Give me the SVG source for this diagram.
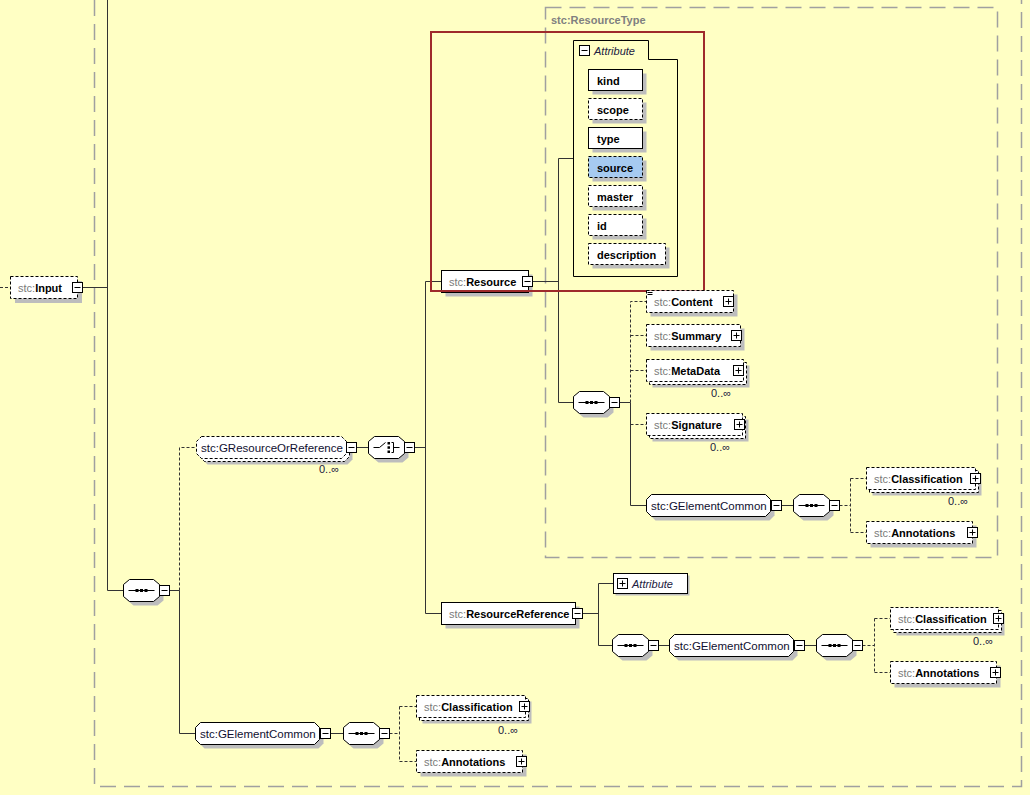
<svg xmlns="http://www.w3.org/2000/svg" width="1030" height="795" viewBox="0 0 1030 795">
<style>
.bg{fill:#FFFFC4}
.frame{fill:none;stroke:#A0A0A0;stroke-width:1.5;stroke-dasharray:16 8}
.ln{fill:none;stroke:#333;stroke-width:1}
.dl{fill:none;stroke:#333;stroke-width:1;stroke-dasharray:3 2}
.shd{fill:#BDBDBD;stroke:none}
.el{fill:#fff;stroke:#000;stroke-width:1}
.opt{stroke-dasharray:3 2}
.oct{fill:#fff;stroke:#000;stroke-width:1}
.t{font-family:"Liberation Sans",Arial,sans-serif;font-size:11px;fill:#000}
.p{fill:#7A7A7A;font-weight:normal}
.b{font-weight:bold;fill:#000}
.g{fill:#101030;font-size:11.5px}
.it{font-style:italic;fill:#202040}
.m{font-family:"Liberation Sans",Arial,sans-serif;font-size:11px;fill:#202040}
</style>
<defs>
<g id="mn"><rect x="0" y="-5" width="10" height="10" fill="#fff" stroke="#000"/><path d="M2,0H8" stroke="#000"/></g>
<g id="pl"><rect x="0" y="-5" width="10" height="10" fill="#fff" stroke="#000"/><path d="M2,0H8M5,-3V3" stroke="#000"/></g>
<g id="seq">
<polygon class="shd" points="10,-7 34,-7 40,-2 40,10 34,15 10,15 4,10 4,-2"/>
<polygon class="oct" points="6,-11 30,-11 36,-6 36,6 30,11 6,11 0,6 0,-6"/>
<path d="M5,0H31" stroke="#000"/>
<rect x="12" y="-1.5" width="3" height="3" fill="#000"/>
<rect x="16.5" y="-1.5" width="3" height="3" fill="#000"/>
<rect x="21" y="-1.5" width="3" height="3" fill="#000"/>
</g>
<g id="choice">
<polygon class="shd" points="10,-7 34,-7 40,-2 40,10 34,15 10,15 4,10 4,-2"/>
<polygon class="oct" points="6,-11 30,-11 36,-6 36,6 30,11 6,11 0,6 0,-6"/>
<path d="M5,0H11L17,-5M23,-5H25V5H23M25,0H31" stroke="#000" fill="none"/>
<rect x="19" y="-5.5" width="2.5" height="2.5" fill="#000"/>
<rect x="19" y="-1.2" width="2.5" height="2.5" fill="#000"/>
<rect x="19" y="3" width="2.5" height="2.5" fill="#000"/>
</g>
<g id="gec">
<polygon class="shd" points="9,-7 123,-7 128,-2 128,10 123,15 9,15 4,10 4,-2"/>
<polygon class="oct" points="5,-11 119,-11 124,-6 124,6 119,11 5,11 0,6 0,-6"/>
</g>
</defs>

<rect class="bg" x="0" y="0" width="1030" height="795"/>

<g id="frames">
<path class="frame" d="M94.5,0V786.5H1021.5V0"/>
<rect class="frame" x="545.5" y="7.5" width="452" height="550"/>
<text class="t" x="551" y="24" style="font-weight:bold;fill:#808080">stc:ResourceType</text>
</g>

<g id="connectors">
<path class="dl" d="M0,287.5H10.5"/>
<path class="ln" d="M82.5,287.5H107.5M107.5,0V590.5H123.5"/>
<path class="ln" d="M169.5,590.5H179.5M179.5,590.5V733.5H195.5"/>
<path class="dl" d="M179.5,590.5V447.5H196.5"/>
<path class="ln" d="M356.5,447.5H368.5M414.5,447.5H425.5M425.5,281.5V613.5M425.5,281.5H441.5M425.5,613.5H441.5"/>
<path class="ln" d="M532.5,281.5H558.5M558.5,158.5V402.5M558.5,158.5H573.5M558.5,402.5H573.5"/>
<path class="ln" d="M619.5,402.5H630.5M630.5,402.5V505.5H646.5"/>
<path class="dl" d="M630.5,402.5V301.5H646.5M630.5,335.5H646.5M630.5,370.5H646.5M630.5,424.5H646.5"/>
<path class="ln" d="M781.5,505.5H793.5"/>
<path class="dl" d="M839.5,505.5H850.5M850.5,478.5V532.5M850.5,478.5H866.5M850.5,532.5H866.5"/>
<path class="ln" d="M582.5,613.5H598.5M598.5,583.5V645.5M598.5,583.5H613.5M598.5,645.5H612.5M658.5,645.5H669.5M804.5,645.5H816.5"/>
<path class="dl" d="M862.5,645.5H874.5M874.5,618.5V672.5M874.5,618.5H890.5M874.5,672.5H890.5"/>
<path class="ln" d="M330.5,733.5H343.5"/>
<path class="dl" d="M389.5,733.5H399.5M399.5,706.5V761.5M399.5,706.5H416.5M399.5,761.5H416.5"/>
</g>

<g id="node-input">
<rect class="shd" x="15" y="281" width="67" height="22"/>
<rect class="el opt" x="10.5" y="276.5" width="67" height="22"/>
<text class="t" x="18" y="291.5"><tspan class="p">stc:</tspan><tspan class="b">Input</tspan></text>
<use href="#mn" x="72.5" y="287.5"/>
</g>

<g id="node-seq-main"><use href="#seq" x="123.5" y="590.5"/><use href="#mn" x="159.5" y="590.5"/></g>

<g id="node-gresourceorreference">
<polygon class="shd" points="207.5,442.5 347.5,442.5 352.5,447.5 352.5,459.5 347.5,464.5 207.5,464.5 202.5,459.5 202.5,447.5"/>
<polygon class="oct opt" points="204.5,439.5 344.5,439.5 349.5,444.5 349.5,456.5 344.5,461.5 204.5,461.5 199.5,456.5 199.5,444.5"/>
<polygon class="oct opt" points="201.5,436.5 341.5,436.5 346.5,441.5 346.5,453.5 341.5,458.5 201.5,458.5 196.5,453.5 196.5,441.5"/>
<text class="t g" x="201" y="451.5">stc:GResourceOrReference</text>
<use href="#mn" x="346.5" y="447.5"/>
<text class="m" x="319" y="473">0..∞</text>
</g>

<g id="node-choice"><use href="#choice" x="368.5" y="447.5"/><use href="#mn" x="404.5" y="447.5"/></g>

<g id="node-resource">
<rect class="shd" x="445.5" y="274.5" width="87" height="22"/>
<rect class="el" x="441.5" y="270.5" width="87" height="22"/>
<text class="t" x="449" y="285.5"><tspan class="p">stc:</tspan><tspan class="b">Resource</tspan></text>
<use href="#mn" x="522.5" y="281.5"/>
</g>

<g id="node-attributes">
<path d="M573.5,40.5H648.5V59.5H677.5V276.5H573.5Z" fill="none" stroke="#000"/>
<use href="#mn" x="579.5" y="50.5"/>
<text class="t it" x="594" y="55">Attribute</text>
<g id="attr-kind"><rect class="shd" x="592.5" y="73.5" width="54" height="21"/><rect class="el" x="588.5" y="69.5" width="54" height="21"/><text class="t b" x="597" y="84.5">kind</text></g>
<g id="attr-scope"><rect class="shd" x="592.5" y="102.5" width="54" height="21"/><rect class="el opt" x="588.5" y="98.5" width="54" height="21"/><text class="t b" x="597" y="113.5">scope</text></g>
<g id="attr-type"><rect class="shd" x="592.5" y="131.5" width="54" height="21"/><rect class="el" x="588.5" y="127.5" width="54" height="21"/><text class="t b" x="597" y="142.5">type</text></g>
<g id="attr-source"><rect class="shd" x="592.5" y="160.5" width="54" height="21"/><rect class="el opt" x="588.5" y="156.5" width="54" height="21" style="fill:#A6CAF0"/><text class="t b" x="597" y="171.5">source</text></g>
<g id="attr-master"><rect class="shd" x="592.5" y="189.5" width="54" height="21"/><rect class="el opt" x="588.5" y="185.5" width="54" height="21"/><text class="t b" x="597" y="200.5">master</text></g>
<g id="attr-id"><rect class="shd" x="592.5" y="218.5" width="54" height="21"/><rect class="el opt" x="588.5" y="214.5" width="54" height="21"/><text class="t b" x="597" y="229.5">id</text></g>
<g id="attr-description"><rect class="shd" x="592.5" y="247.5" width="77" height="21"/><rect class="el opt" x="588.5" y="243.5" width="77" height="21"/><text class="t b" x="597" y="258.5">description</text></g>
</g>

<g id="highlight"><rect x="431" y="32" width="273" height="259" fill="none" stroke="#9E2A2B" stroke-width="2"/></g>

<g id="node-seq-resource"><use href="#seq" x="573.5" y="402.5"/><use href="#mn" x="609.5" y="402.5"/></g>

<g id="node-content">
<rect class="shd" x="650.5" y="294.5" width="87" height="22"/>
<rect class="el opt" x="646.5" y="290.5" width="87" height="22"/>
<path d="M647.5,292.5H652.5M647.5,294.5H652.5" stroke="#000"/>
<text class="t" x="654" y="305.5"><tspan class="p">stc:</tspan><tspan class="b">Content</tspan></text>
<use href="#pl" x="723.5" y="301.5"/>
</g>
<g id="node-summary">
<rect class="shd" x="650.5" y="328.5" width="94" height="22"/>
<rect class="el opt" x="646.5" y="324.5" width="94" height="22"/>
<text class="t" x="654" y="339.5"><tspan class="p">stc:</tspan><tspan class="b">Summary</tspan></text>
<use href="#pl" x="731.5" y="335.5"/>
</g>
<g id="node-metadata">
<rect class="shd" x="652.5" y="365.5" width="97" height="22"/>
<rect class="el opt" x="649.5" y="362.5" width="97" height="22"/>
<rect class="el opt" x="646.5" y="359.5" width="97" height="22"/>
<text class="t" x="654" y="374.5"><tspan class="p">stc:</tspan><tspan class="b">MetaData</tspan></text>
<use href="#pl" x="733.5" y="370.5"/>
<text class="m" x="711" y="397">0..∞</text>
</g>
<g id="node-signature">
<rect class="shd" x="652.5" y="419.5" width="96" height="22"/>
<rect class="el opt" x="649.5" y="416.5" width="96" height="22"/>
<rect class="el opt" x="646.5" y="413.5" width="96" height="22"/>
<text class="t" x="654" y="428.5"><tspan class="p">stc:</tspan><tspan class="b">Signature</tspan></text>
<use href="#pl" x="734.5" y="424.5"/>
<text class="m" x="710" y="451">0..∞</text>
</g>

<g id="node-gec-resource">
<use href="#gec" x="646.5" y="505.5"/>
<text class="t g" x="651" y="509.5">stc:GElementCommon</text>
<use href="#mn" x="771.5" y="505.5"/>
</g>
<g id="node-seq-gec-resource"><use href="#seq" x="793.5" y="505.5"/><use href="#mn" x="829.5" y="505.5"/></g>
<g id="node-classification-1">
<rect class="shd" x="872.5" y="473.5" width="109" height="22"/>
<rect class="el opt" x="869.5" y="470.5" width="109" height="22"/>
<rect class="el opt" x="866.5" y="467.5" width="109" height="22"/>
<text class="t" x="874" y="482.5"><tspan class="p">stc:</tspan><tspan class="b">Classification</tspan></text>
<use href="#pl" x="970.5" y="478.5"/>
<text class="m" x="948" y="505">0..∞</text>
</g>
<g id="node-annotations-1">
<rect class="shd" x="870.5" y="525.5" width="106" height="22"/>
<rect class="el opt" x="866.5" y="521.5" width="106" height="22"/>
<text class="t" x="874" y="536.5"><tspan class="p">stc:</tspan><tspan class="b">Annotations</tspan></text>
<use href="#pl" x="967.5" y="532.5"/>
</g>

<g id="node-resourcereference">
<rect class="shd" x="445.5" y="606.5" width="134" height="22"/>
<rect class="el" x="441.5" y="602.5" width="134" height="22"/>
<text class="t" x="449" y="617.5"><tspan class="p">stc:</tspan><tspan class="b">ResourceReference</tspan></text>
<use href="#mn" x="572.5" y="613.5"/>
</g>
<g id="node-attribute-ref">
<rect class="shd" x="615.5" y="575.5" width="74" height="20"/>
<rect class="el" x="613.5" y="573.5" width="74" height="20"/>
<use href="#pl" x="617.5" y="583.5"/>
<text class="t it" x="632" y="587.5">Attribute</text>
</g>
<g id="node-seq-ref"><use href="#seq" x="612.5" y="645.5"/><use href="#mn" x="648.5" y="645.5"/></g>
<g id="node-gec-ref">
<use href="#gec" x="669.5" y="645.5"/>
<text class="t g" x="674" y="649.5">stc:GElementCommon</text>
<use href="#mn" x="794.5" y="645.5"/>
</g>
<g id="node-seq-gec-ref"><use href="#seq" x="816.5" y="645.5"/><use href="#mn" x="852.5" y="645.5"/></g>
<g id="node-classification-2">
<rect class="shd" x="896.5" y="613.5" width="108" height="22"/>
<rect class="el opt" x="893.5" y="610.5" width="108" height="22"/>
<rect class="el opt" x="890.5" y="607.5" width="108" height="22"/>
<text class="t" x="898" y="622.5"><tspan class="p">stc:</tspan><tspan class="b">Classification</tspan></text>
<use href="#pl" x="993.5" y="618.5"/>
<text class="m" x="973" y="645">0..∞</text>
</g>
<g id="node-annotations-2">
<rect class="shd" x="894.5" y="665.5" width="106" height="22"/>
<rect class="el opt" x="890.5" y="661.5" width="106" height="22"/>
<text class="t" x="898" y="676.5"><tspan class="p">stc:</tspan><tspan class="b">Annotations</tspan></text>
<use href="#pl" x="990.5" y="672.5"/>
</g>

<g id="node-gec-main">
<use href="#gec" x="195.5" y="733.5"/>
<text class="t g" x="200" y="737.5">stc:GElementCommon</text>
<use href="#mn" x="320.5" y="733.5"/>
</g>
<g id="node-seq-gec-main"><use href="#seq" x="343.5" y="733.5"/><use href="#mn" x="379.5" y="733.5"/></g>
<g id="node-classification-3">
<rect class="shd" x="422.5" y="701.5" width="109" height="22"/>
<rect class="el opt" x="419.5" y="698.5" width="109" height="22"/>
<rect class="el opt" x="416.5" y="695.5" width="109" height="22"/>
<text class="t" x="424" y="710.5"><tspan class="p">stc:</tspan><tspan class="b">Classification</tspan></text>
<use href="#pl" x="519.5" y="706.5"/>
<text class="m" x="498" y="734">0..∞</text>
</g>
<g id="node-annotations-3">
<rect class="shd" x="420.5" y="754.5" width="106" height="22"/>
<rect class="el opt" x="416.5" y="750.5" width="106" height="22"/>
<text class="t" x="424" y="765.5"><tspan class="p">stc:</tspan><tspan class="b">Annotations</tspan></text>
<use href="#pl" x="516.5" y="761.5"/>
</g>
</svg>
